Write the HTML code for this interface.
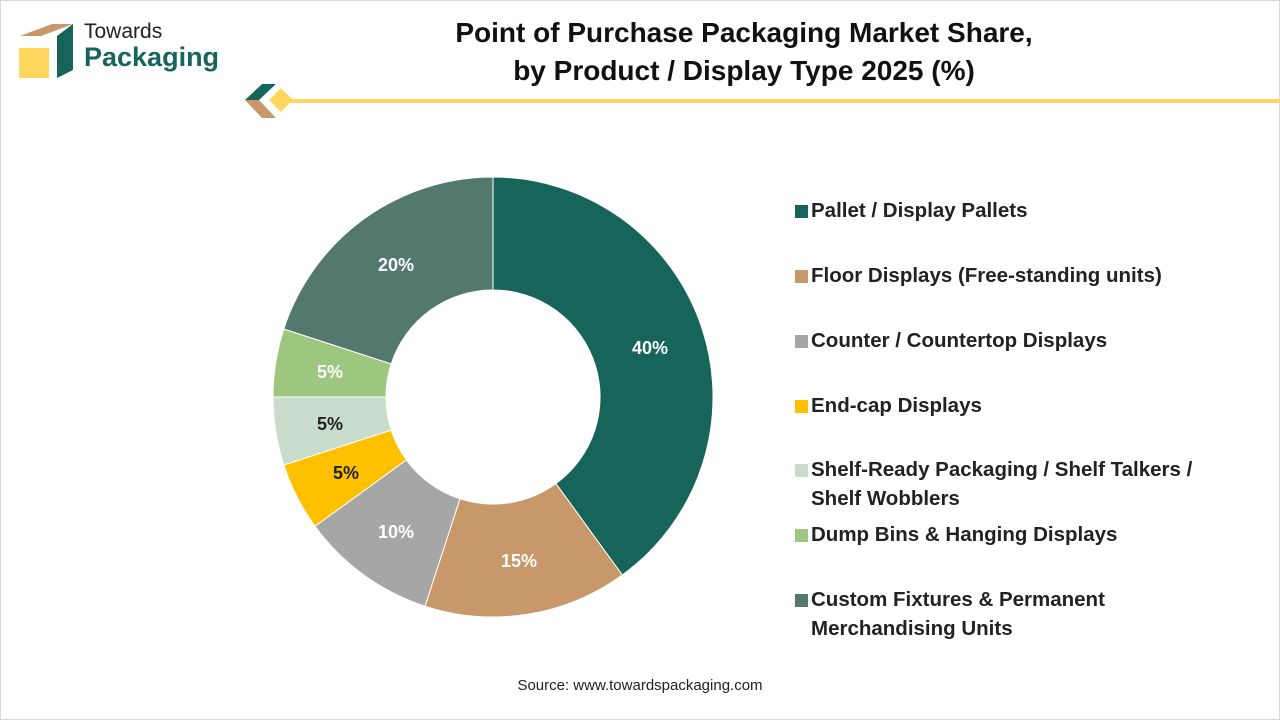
<!DOCTYPE html>
<html><head><meta charset="utf-8"><style>
body{margin:0;width:1280px;height:720px;background:#fff;font-family:"Liberation Sans",sans-serif;position:relative;overflow:hidden}
.frame{position:absolute;left:0;top:0;width:1278px;height:718px;border:1px solid #d9d9d9}
.t{position:absolute;left:244px;width:1000px;text-align:center;font-weight:bold;font-size:28px;color:#111}
.lg{position:absolute;left:797px;font-size:20.5px;font-weight:bold;color:#222;line-height:29px;white-space:nowrap}
.lg i{position:absolute;left:-2px;top:9px;width:13px;height:13px}
.lg span{display:block;margin-left:14px}
</style></head><body>
<div class="frame"></div>
<svg width="1280" height="720" style="position:absolute;left:0;top:0">
<polygon points="20,36 52,24 73,24 41,36" fill="#c8976a"/>
<rect x="19" y="48" width="30" height="30" fill="#ffd75e"/>
<polygon points="57,36 73,24 73,70 57,78" fill="#17645a"/>
<polygon points="245,100 262,84 276,84 259,100" fill="#17645a"/>
<polygon points="245,100 259,100 276,118 262,118" fill="#c8976a"/>
<polygon points="281,88 293,100 281,112 269,100" fill="#ffd75e"/>
<rect x="290" y="99" width="990" height="4" fill="#ffd75e"/>
<g stroke="#fff" stroke-width="1">
<path d="M493,177 A220,220 0 0 1 622.3,575 L555.9,483.6 A107,107 0 0 0 493,290Z" fill="#17645a"/>
<path d="M622.3,575 A220,220 0 0 1 425,606.2 L459.9,498.8 A107,107 0 0 0 555.9,483.6Z" fill="#c8976a"/>
<path d="M425,606.2 A220,220 0 0 1 315,526.3 L406.4,459.9 A107,107 0 0 0 459.9,498.8Z" fill="#a6a6a6"/>
<path d="M315,526.3 A220,220 0 0 1 283.8,465 L391.2,430.1 A107,107 0 0 0 406.4,459.9Z" fill="#ffc000"/>
<path d="M283.8,465 A220,220 0 0 1 273,397 L386,397 A107,107 0 0 0 391.2,430.1Z" fill="#c9dccb"/>
<path d="M273,397 A220,220 0 0 1 283.8,329 L391.2,363.9 A107,107 0 0 0 386,397Z" fill="#9dc67f"/>
<path d="M283.8,329 A220,220 0 0 1 493,177 L493,290 A107,107 0 0 0 391.2,363.9Z" fill="#53786e"/>
</g>
<g font-family="Liberation Sans" font-weight="bold" font-size="18" text-anchor="middle">
<text x="650" y="354" fill="#fff">40%</text>
<text x="519" y="567" fill="#fff">15%</text>
<text x="396" y="538" fill="#fff">10%</text>
<text x="346" y="479" fill="#222">5%</text>
<text x="330" y="430" fill="#222">5%</text>
<text x="330" y="378" fill="#fff">5%</text>
<text x="396" y="271" fill="#fff">20%</text>
</g>
</svg>
<div style="position:absolute;left:84px;top:20px;font-size:21px;color:#222">Towards</div>
<div style="position:absolute;left:84px;top:42px;font-size:27px;font-weight:bold;color:#17645a">Packaging</div>
<div class="t" style="top:17px">Point of Purchase Packaging Market Share,</div>
<div class="t" style="top:55px">by Product / Display Type 2025 (%)</div>
<div class="lg" style="top:196px"><i style="background:#17645a"></i><span>Pallet / Display Pallets</span></div>
<div class="lg" style="top:261px"><i style="background:#c8976a"></i><span>Floor Displays (Free-standing units)</span></div>
<div class="lg" style="top:326px"><i style="background:#a6a6a6"></i><span>Counter / Countertop Displays</span></div>
<div class="lg" style="top:391px"><i style="background:#ffc000"></i><span>End-cap Displays</span></div>
<div class="lg" style="top:455px"><i style="background:#c9dccb"></i><span>Shelf-Ready Packaging / Shelf Talkers /<br>Shelf Wobblers</span></div>
<div class="lg" style="top:520px"><i style="background:#9dc67f"></i><span>Dump Bins &amp; Hanging Displays</span></div>
<div class="lg" style="top:585px"><i style="background:#53786e"></i><span>Custom Fixtures &amp; Permanent<br>Merchandising Units</span></div>
<div style="position:absolute;left:0;width:1280px;top:677px;text-align:center;font-size:15px;color:#222">Source: www.towardspackaging.com</div>
</body></html>
